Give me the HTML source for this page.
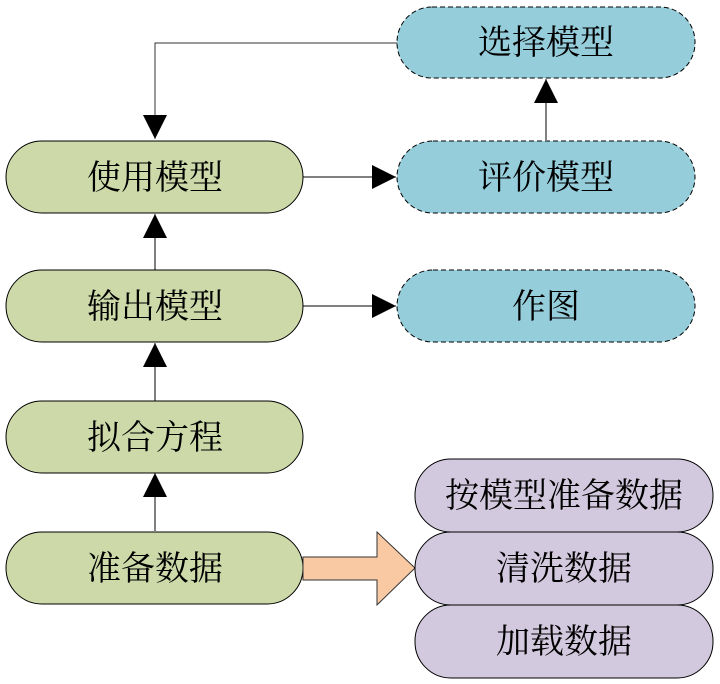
<!DOCTYPE html>
<html><head><meta charset="utf-8"><style>body{margin:0;background:#fff}</style></head><body>
<svg width="720" height="684" xmlns="http://www.w3.org/2000/svg" style="display:block">
<defs><marker id="a" markerWidth="24" markerHeight="24" refX="24" refY="12" orient="auto" markerUnits="userSpaceOnUse"><path d="M0,0 L24,12 L0,24 Z" fill="#000"/></marker></defs>
<g stroke="#000" stroke-width="1" fill="none">
<path d="M397,43 H155 V139" stroke="#333" marker-end="url(#a)"/>
<path d="M155,270 V214" marker-end="url(#a)"/>
<path d="M155,401 V343" marker-end="url(#a)"/>
<path d="M155,531 V473" marker-end="url(#a)"/>
<path d="M303,177 H396" marker-end="url(#a)"/>
<path d="M303,306 H396" marker-end="url(#a)"/>
<path d="M546,140 V79" marker-end="url(#a)"/>
</g>
<g stroke="#000" stroke-width="1" fill="#cdd9a9">
<rect x="6" y="141" width="297" height="72" rx="36"/>
<rect x="6" y="270" width="297" height="72" rx="36"/>
<rect x="6" y="401" width="297" height="72" rx="36"/>
<rect x="6" y="532" width="297" height="72" rx="36"/>
</g>
<g stroke="#000" stroke-width="1" stroke-dasharray="5,3" fill="#95cddb">
<rect x="397" y="7" width="298" height="71" rx="35"/>
<rect x="397" y="141" width="298" height="72" rx="36"/>
<rect x="397" y="270" width="298" height="72" rx="36"/>
</g>
<path d="M303,557 H377 V532 L415,568 L377,605 V580 H303 Z" fill="#f9c9a4" stroke="#333"/>
<g stroke="#000" stroke-width="1" fill="#d3c9de">
<rect x="415" y="459" width="298" height="73" rx="36"/>
<rect x="415" y="532" width="298" height="73" rx="36"/>
<rect x="415" y="605" width="298" height="73" rx="36"/>
</g>
<g font-family="'Liberation Serif','Noto Serif CJK SC',serif" font-size="34" text-anchor="middle" fill="#000">
<text x="155" y="189">使用模型</text>
<text x="155" y="318">输出模型</text>
<text x="155" y="449">拟合方程</text>
<text x="155" y="580">准备数据</text>
<text x="546" y="54">选择模型</text>
<text x="546" y="189">评价模型</text>
<text x="546" y="318">作图</text>
<text x="564" y="507">按模型准备数据</text>
<text x="564" y="580">清洗数据</text>
<text x="564" y="653">加载数据</text>
</g>
</svg>
</body></html>
